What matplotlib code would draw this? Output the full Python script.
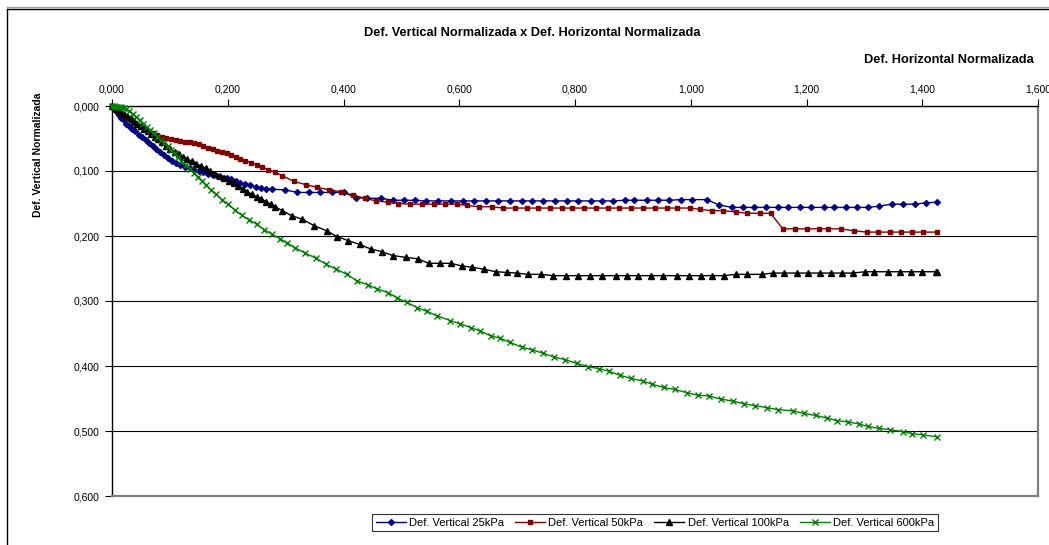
import matplotlib
matplotlib.use("Agg")
import matplotlib.pyplot as plt
from matplotlib.lines import Line2D
from matplotlib.ticker import FuncFormatter, MultipleLocator

plt.rcParams['font.family'] = ['Liberation Sans', 'DejaVu Sans']

# ---------------- data ----------------
x_25 = [0.000, 0.004, 0.008, 0.012, 0.016, 0.020, 0.025, 0.030, 0.035, 0.040, 0.046, 0.052,
        0.058, 0.064, 0.070, 0.076, 0.083, 0.090, 0.097, 0.104, 0.111, 0.118, 0.126, 0.134,
        0.142, 0.150, 0.158, 0.166, 0.174, 0.182, 0.190, 0.198, 0.206, 0.214, 0.222, 0.230,
        0.239, 0.248, 0.257, 0.266, 0.276, 0.299, 0.320, 0.340, 0.359, 0.380, 0.401, 0.421,
        0.440, 0.465, 0.485, 0.504, 0.523, 0.542, 0.563, 0.585, 0.606, 0.625, 0.646, 0.667,
        0.687, 0.708, 0.725, 0.744, 0.765, 0.786, 0.805, 0.827, 0.846, 0.865, 0.886, 0.902,
        0.924, 0.943, 0.962, 0.983, 1.003, 1.028, 1.048, 1.071, 1.090, 1.109, 1.130, 1.150,
        1.168, 1.188, 1.207, 1.230, 1.247, 1.268, 1.288, 1.306, 1.326, 1.347, 1.366, 1.387,
        1.406, 1.425]
y_25 = [0.000, 0.004, 0.009, 0.014, 0.018, 0.022, 0.027, 0.031, 0.035, 0.039, 0.044, 0.048,
        0.053, 0.057, 0.062, 0.066, 0.071, 0.076, 0.080, 0.084, 0.088, 0.091, 0.094, 0.096,
        0.098, 0.100, 0.102, 0.104, 0.106, 0.108, 0.110, 0.111, 0.113, 0.116, 0.118, 0.120,
        0.122, 0.124, 0.126, 0.127, 0.128, 0.129, 0.133, 0.133, 0.133, 0.133, 0.133, 0.141,
        0.142, 0.142, 0.145, 0.145, 0.145, 0.146, 0.146, 0.146, 0.146, 0.146, 0.146, 0.146,
        0.146, 0.146, 0.146, 0.146, 0.146, 0.146, 0.146, 0.146, 0.146, 0.146, 0.145, 0.145,
        0.145, 0.145, 0.145, 0.144, 0.144, 0.144, 0.152, 0.156, 0.156, 0.156, 0.156, 0.156,
        0.156, 0.156, 0.156, 0.156, 0.156, 0.156, 0.156, 0.156, 0.154, 0.151, 0.151, 0.151,
        0.149, 0.148]

x_50 = [0.000, 0.004, 0.008, 0.012, 0.017, 0.022, 0.027, 0.032, 0.038, 0.044, 0.050, 0.057,
        0.064, 0.071, 0.078, 0.086, 0.094, 0.102, 0.110, 0.118, 0.126, 0.134, 0.142, 0.150,
        0.158, 0.166, 0.174, 0.182, 0.190, 0.198, 0.206, 0.214, 0.222, 0.230, 0.240, 0.250,
        0.260, 0.270, 0.282, 0.294, 0.314, 0.335, 0.354, 0.375, 0.396, 0.416, 0.437, 0.456,
        0.477, 0.494, 0.515, 0.535, 0.556, 0.575, 0.596, 0.613, 0.634, 0.656, 0.675, 0.696,
        0.717, 0.736, 0.756, 0.777, 0.794, 0.815, 0.836, 0.857, 0.876, 0.896, 0.917, 0.938,
        0.959, 0.976, 0.998, 1.016, 1.036, 1.055, 1.078, 1.098, 1.119, 1.138, 1.159, 1.180,
        1.200, 1.221, 1.238, 1.259, 1.282, 1.304, 1.323, 1.344, 1.364, 1.383, 1.402, 1.425]
y_50 = [0.000, 0.003, 0.006, 0.009, 0.012, 0.015, 0.019, 0.022, 0.026, 0.029, 0.033, 0.036,
        0.039, 0.042, 0.045, 0.047, 0.049, 0.051, 0.053, 0.054, 0.055, 0.056, 0.057, 0.059,
        0.061, 0.064, 0.066, 0.069, 0.071, 0.073, 0.076, 0.078, 0.081, 0.084, 0.087, 0.090,
        0.094, 0.098, 0.102, 0.107, 0.116, 0.121, 0.125, 0.129, 0.132, 0.137, 0.142, 0.146,
        0.148, 0.150, 0.151, 0.151, 0.151, 0.151, 0.151, 0.153, 0.155, 0.155, 0.157, 0.157,
        0.157, 0.157, 0.157, 0.157, 0.157, 0.157, 0.157, 0.157, 0.157, 0.157, 0.157, 0.157,
        0.157, 0.157, 0.157, 0.159, 0.161, 0.161, 0.163, 0.165, 0.165, 0.165, 0.189, 0.189,
        0.189, 0.189, 0.189, 0.189, 0.192, 0.194, 0.194, 0.194, 0.194, 0.194, 0.194, 0.194]

x_100 = [0.000, 0.005, 0.010, 0.015, 0.020, 0.026, 0.032, 0.038, 0.044, 0.050, 0.056, 0.062,
         0.068, 0.074, 0.080, 0.087, 0.094, 0.101, 0.108, 0.115, 0.122, 0.130, 0.138, 0.146,
         0.154, 0.162, 0.170, 0.178, 0.186, 0.194, 0.202, 0.210, 0.218, 0.226, 0.234, 0.242,
         0.250, 0.258, 0.266, 0.274, 0.282, 0.294, 0.311, 0.328, 0.349, 0.371, 0.389, 0.408,
         0.428, 0.447, 0.466, 0.485, 0.508, 0.528, 0.547, 0.566, 0.585, 0.604, 0.622, 0.642,
         0.663, 0.682, 0.699, 0.718, 0.741, 0.762, 0.784, 0.805, 0.826, 0.846, 0.870, 0.889,
         0.908, 0.931, 0.952, 0.976, 0.997, 1.017, 1.036, 1.057, 1.078, 1.098, 1.123, 1.142,
         1.161, 1.183, 1.202, 1.223, 1.242, 1.261, 1.280, 1.301, 1.316, 1.340, 1.361, 1.380,
         1.399, 1.423, 1.425]
y_100 = [0.000, 0.003, 0.006, 0.009, 0.012, 0.016, 0.019, 0.023, 0.027, 0.031, 0.035, 0.039,
         0.043, 0.047, 0.051, 0.056, 0.061, 0.066, 0.070, 0.074, 0.078, 0.082, 0.085, 0.089,
         0.092, 0.096, 0.100, 0.104, 0.108, 0.111, 0.115, 0.119, 0.123, 0.127, 0.132, 0.136,
         0.140, 0.143, 0.147, 0.151, 0.155, 0.161, 0.169, 0.174, 0.184, 0.192, 0.201, 0.207,
         0.213, 0.220, 0.224, 0.230, 0.233, 0.235, 0.242, 0.242, 0.242, 0.246, 0.248, 0.251,
         0.255, 0.256, 0.257, 0.259, 0.259, 0.261, 0.261, 0.261, 0.261, 0.261, 0.261, 0.261,
         0.261, 0.261, 0.261, 0.261, 0.261, 0.261, 0.261, 0.261, 0.259, 0.259, 0.259, 0.257,
         0.257, 0.257, 0.257, 0.257, 0.257, 0.257, 0.257, 0.255, 0.255, 0.255, 0.255, 0.255,
         0.255, 0.255, 0.255]

x_600 = [0.000, 0.003, 0.006, 0.009, 0.012, 0.016, 0.020, 0.025, 0.030, 0.036, 0.042, 0.048,
         0.054, 0.060, 0.066, 0.072, 0.078, 0.084, 0.090, 0.096, 0.102, 0.108, 0.114, 0.120,
         0.127, 0.134, 0.141, 0.148, 0.155, 0.163, 0.171, 0.180, 0.190, 0.200, 0.212, 0.224,
         0.237, 0.250, 0.263, 0.276, 0.290, 0.303, 0.316, 0.333, 0.352, 0.370, 0.387, 0.406,
         0.423, 0.442, 0.458, 0.477, 0.492, 0.509, 0.527, 0.544, 0.561, 0.584, 0.601, 0.620,
         0.636, 0.655, 0.670, 0.687, 0.708, 0.725, 0.744, 0.763, 0.782, 0.803, 0.822, 0.841,
         0.858, 0.877, 0.896, 0.917, 0.933, 0.953, 0.972, 0.993, 1.012, 1.031, 1.052, 1.073,
         1.092, 1.111, 1.131, 1.150, 1.176, 1.195, 1.216, 1.235, 1.252, 1.271, 1.290, 1.306,
         1.325, 1.344, 1.366, 1.382, 1.402, 1.425]
y_600 = [0.000, 0.000, 0.001, 0.001, 0.002, 0.002, 0.003, 0.005, 0.008, 0.012, 0.017, 0.022,
         0.027, 0.032, 0.037, 0.042, 0.047, 0.052, 0.057, 0.062, 0.068, 0.073, 0.079, 0.085,
         0.091, 0.097, 0.103, 0.109, 0.115, 0.122, 0.129, 0.136, 0.144, 0.151, 0.160, 0.168,
         0.175, 0.182, 0.190, 0.197, 0.204, 0.211, 0.218, 0.226, 0.234, 0.2435, 0.251, 0.259,
         0.269, 0.275, 0.2815, 0.287, 0.295, 0.302, 0.310, 0.316, 0.3225, 0.330, 0.335, 0.341,
         0.346, 0.354, 0.357, 0.3635, 0.371, 0.375, 0.380, 0.386, 0.390, 0.396, 0.401, 0.404,
         0.408, 0.414, 0.419, 0.423, 0.428, 0.433, 0.436, 0.441, 0.445, 0.446, 0.451, 0.454,
         0.458, 0.461, 0.464, 0.467, 0.469, 0.473, 0.476, 0.480, 0.484, 0.486, 0.489, 0.493,
         0.496, 0.498, 0.501, 0.504, 0.506, 0.509]

labels = ["Def. Vertical 25kPa", "Def. Vertical 50kPa", "Def. Vertical 100kPa", "Def. Vertical 600kPa"]
title = "Def. Vertical Normalizada x Def. Horizontal Normalizada"
xlabel = "Def. Horizontal Normalizada"
ylabel = "Def. Vertical Normalizada"

# ---------------- figure ----------------
W, H = 1049, 545
fig = plt.figure(figsize=(W / 100, H / 100), dpi=100)
ax = fig.add_axes([112 / W, 1 - 496 / H, (1038 - 112) / W, (496 - 106) / H])

series = [
    (x_25, y_25, '#000080', 'D', 3.0),
    (x_50, y_50, '#800000', 's', 3.2),
    (x_100, y_100, '#000000', '^', 4.0),
    (x_600, y_600, '#008000', 'x', 4.0),
]
for (xs, ys, c, m, ms), lab in zip(series, labels):
    ax.plot(xs, ys, color=c, marker=m, markersize=ms, linewidth=1.0,
            markerfacecolor=c, markeredgecolor=c, markeredgewidth=1.0, label=lab,
            clip_on=False, zorder=3)

ax.set_xlim(0, 1.6)
ax.set_ylim(0.6, 0.0)
ax.xaxis.set_major_locator(MultipleLocator(0.2))
ax.yaxis.set_major_locator(MultipleLocator(0.1))
fmt = FuncFormatter(lambda v, p: f"{v:.3f}".replace('.', ','))
ax.xaxis.set_major_formatter(fmt)
ax.yaxis.set_major_formatter(fmt)
ax.xaxis.tick_top()
ax.tick_params(axis='both', direction='out', length=5, width=0.8, labelsize=7.5, pad=4, color='black')
ax.tick_params(axis='x', pad=3)
ax.yaxis.grid(True, color='black', linewidth=0.8, zorder=1)
ax.set_axisbelow(True)

for s in ['left', 'top']:
    ax.spines[s].set_color('black')
    ax.spines[s].set_linewidth(1.0)
for s in ['right', 'bottom']:
    ax.spines[s].set_color('#808080')
    ax.spines[s].set_linewidth(1.6)

fig.text(532 / W, 1 - 33 / H, title, ha='center', va='center', fontsize=9.2, fontweight='bold')
fig.text(1034 / W, 1 - 60 / H, xlabel, ha='right', va='center', fontsize=9.2, fontweight='bold')
fig.text(38 / W, 1 - 155 / H, ylabel, ha='center', va='center', rotation=90, fontsize=7.5, fontweight='bold')

leg = fig.legend(loc='center', bbox_to_anchor=(655 / W, 1 - 522.5 / H), ncol=4, fontsize=8,
                 frameon=True, fancybox=False, shadow=False, handlelength=2.7,
                 handletextpad=0.3, columnspacing=1.0, borderpad=0.3, borderaxespad=0)
leg.get_frame().set_edgecolor('black')
leg.get_frame().set_linewidth(0.8)

# chart area border (top and left visible)
fig.add_artist(Line2D([7 / W, 1.0], [1 - 7 / H, 1 - 7 / H], color='#a0a0a0', linewidth=1.0))
fig.add_artist(Line2D([7 / W, 1.0], [1 - 9 / H, 1 - 9 / H], color='black', linewidth=1.0))
fig.add_artist(Line2D([7 / W, 7 / W], [1 - 9 / H, 0.0], color='black', linewidth=1.0))

fig.savefig('out.png', dpi=100)
